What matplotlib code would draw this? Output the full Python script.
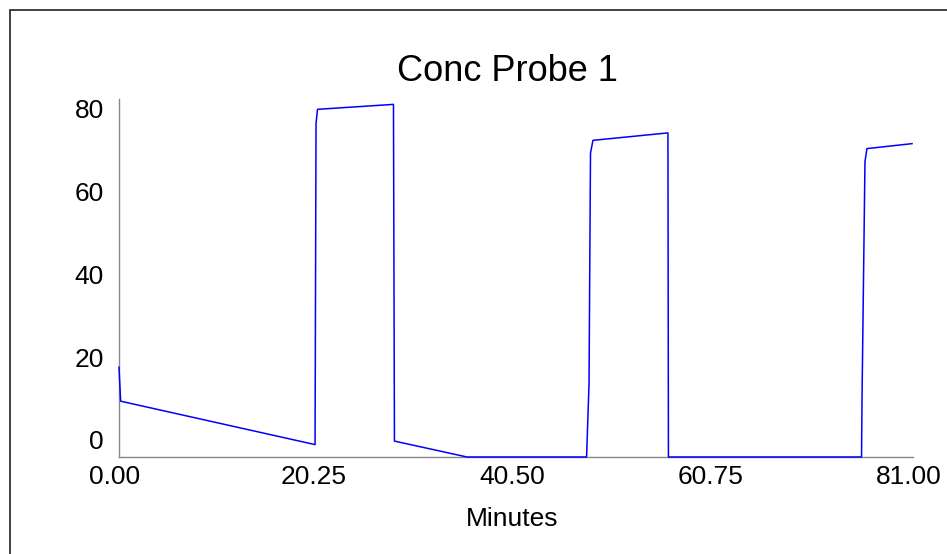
import matplotlib
matplotlib.use("Agg")
import matplotlib.pyplot as plt
from matplotlib.patches import Rectangle
from matplotlib.transforms import ScaledTranslation

# Data
minutes = [0, 0.17, 20.0, 20.1, 20.25, 28.0, 28.1, 35.5, 47.7, 47.95, 48.1, 48.35,
           56.0, 56.05, 75.75, 75.8, 76.1, 76.3, 80.9]
conc = [18.0, 9.8, -0.7, 77.0, 80.4, 81.6, 0.15, -3.7, -3.7, 14.0, 69.8, 72.9,
        74.7, -3.7, -3.7, 10.5, 67.7, 70.9, 72.1]
x_ticks = [0.00, 20.25, 40.50, 60.75, 81.00]
x_tick_labels = ["0.00", "20.25", "40.50", "60.75", "81.00"]
y_ticks = [0, 20, 40, 60, 80]
title = "Conc Probe 1"
x_label = "Minutes"

plt.rcParams['font.family'] = ['Liberation Sans', 'DejaVu Sans']

W, H = 947, 554
fig = plt.figure(figsize=(W / 100, H / 100), dpi=100)
fig.patch.set_facecolor("white")

left, right, top, bottom = 119, 913, 99, 457
ax = fig.add_axes([left / W, 1 - bottom / H, (right - left) / W, (bottom - top) / H])

ax.plot(minutes, conc, color="#0000ff", linewidth=1.1, clip_on=False, zorder=3)
ax.set_xlim(0, 81)
ax.set_ylim(-3.7, 82.9)

ax.set_xticks(x_ticks)
ax.set_xticklabels(x_tick_labels)
ax.set_yticks(y_ticks)
ax.tick_params(axis="both", length=0, labelsize=19, colors="black")
ax.tick_params(axis="y", pad=11)
ax.tick_params(axis="x", pad=6)

shift = ScaledTranslation(-4 / 100, 0, fig.dpi_scale_trans)
for lbl in ax.get_xticklabels():
    lbl.set_transform(lbl.get_transform() + shift)
shift_y = ScaledTranslation(0, 2 / 100, fig.dpi_scale_trans)
for lbl in ax.get_yticklabels():
    lbl.set_transform(lbl.get_transform() + shift_y)

for s in ["top", "right"]:
    ax.spines[s].set_visible(False)
for s in ["left", "bottom"]:
    ax.spines[s].set_color("#888888")
    ax.spines[s].set_linewidth(1.0)

fig.text(507.5 / W, 1 - 81 / H, title, ha="center", va="baseline", fontsize=26)
fig.text(512 / W, 1 - 526 / H, x_label, ha="center", va="baseline", fontsize=19)

# outer frame (left and top edges visible)
fig.patches.append(Rectangle((9.5 / W, -0.2), 1.2, 1.2 - 10 / H,
                             transform=fig.transFigure, fill=False,
                             edgecolor="#333333", linewidth=1.3))

fig.savefig("out.png", dpi=100, facecolor="white")
